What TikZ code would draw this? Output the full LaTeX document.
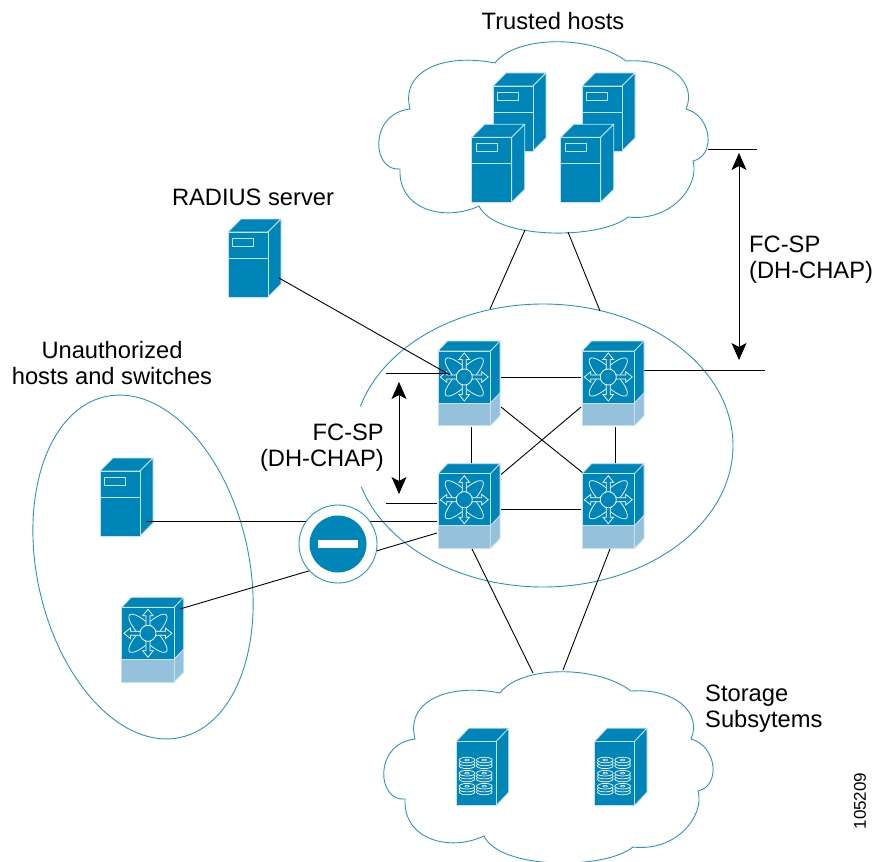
\documentclass[tikz,border=0pt]{standalone}
\usepackage{fontspec}
\setmainfont{Liberation Sans}
\usetikzlibrary{arrows.meta,shapes.geometric}
\definecolor{ciscoblue}{HTML}{0085B8}
\definecolor{ciscolight}{HTML}{95C1DD}
\definecolor{edgeline}{HTML}{C4E2EE}
\definecolor{ringline}{HTML}{2B95C0}
\newcommand{\cloudoutline}{(495,63) .. controls (515,36) and (590,34) .. (626,61)
 .. controls (672,58) and (697,84) .. (686,109)
 .. controls (712,116) and (716,156) .. (693,161)
 .. controls (700,185) and (672,222) .. (628,217)
 .. controls (600,240) and (495,240) .. (479,206)
 .. controls (445,222) and (398,210) .. (400,169)
 .. controls (372,172) and (368,114) .. (410,109)
 .. controls (400,70) and (445,53) .. cycle}
\tikzset{
 ring/.style={draw=ringline,line width=0.9pt},
 link/.style={draw=black,line width=0.9pt},
 span/.style={draw=black,line width=0.9pt,{Stealth[length=17pt,width=15pt,inset=4pt]}-{Stealth[length=17pt,width=15pt,inset=4pt]}},
 label/.style={font=\fontsize{23.7}{26}\selectfont,inner sep=0pt},
 face/.style={fill=ciscoblue,draw=edgeline,line width=0.8pt,line join=round},
 panel/.style={fill=ciscolight,draw=edgeline,line width=0.8pt,line join=round},
 glyph/.style={draw=white,line width=0.7pt},
 server/.pic={
  \path[face] (0,0) -- (13,-13) -- (53,-13) -- (40,0) -- cycle;
  \path[face] (40,0) -- (53,-13) -- (53,52) -- (40,65) -- cycle;
  \path[face] (0,0) rectangle (40,65);
  \draw[edgeline,line width=0.9pt] (0,26) -- (40,26);
  \draw[edgeline,line width=0.9pt] (4.5,6) rectangle (25.5,14);
 },
 switchbox/.pic={
  \path[face] (0,0) -- (9.5,-10) -- (62,-10) -- (52.5,0) -- cycle;
  \path[face] (52.5,0) -- (62,-10) -- (62,42) -- (52.5,52) -- cycle;
  \path[panel] (52.5,52) -- (62,42) -- (62,64.7) -- (52.5,74.7) -- cycle;
  \path[face] (0,0) rectangle (52.5,52);
  \path[panel] (0,52) rectangle (52.5,74.7);
  \begin{scope}[shift={(26.25,26)}]
   \draw[glyph] (0,0) ellipse [x radius=26,y radius=7.5,rotate=45];
   \draw[glyph] (0,0) ellipse [x radius=26,y radius=7.5,rotate=-45];
   \foreach \a in {0,90,180,270}
    \draw[glyph,fill=ciscoblue,rotate=\a,line join=miter] (7,-2) -- (17.5,-2) -- (17.5,-5.3) -- (24,0) -- (17.5,5.3) -- (17.5,2) -- (7,2) -- cycle;
   \draw[glyph,fill=ciscoblue] (0,0) circle [radius=8];
  \end{scope}
 },
 storage/.pic={
  \path[face] (0,0) -- (12.7,-13.5) -- (52.7,-13.5) -- (40,0) -- cycle;
  \path[face] (40,0) -- (52.7,-13.5) -- (52.7,50.5) -- (40,64) -- cycle;
  \path[face] (0,0) rectangle (40,64);
  \foreach \cx in {11,28.3}
   \foreach \cy in {18.3,31.5,44.5} {
    \foreach \o in {5.8,2.9,0}
     \draw[white,line width=0.7pt,fill=ciscoblue] (\cx,\cy+\o) ellipse [x radius=7.8,y radius=2.8];
    \draw[white,line width=0.6pt] (\cx,\cy) ellipse [x radius=2.2,y radius=0.9];
   }
 },
}
\begin{document}
\begin{tikzpicture}[x=1pt,y=-1pt]
\useasboundingbox (0,0) rectangle (874,861);
% coordinates for connector ends
\coordinate (tcA) at (525,230); \coordinate (mA) at (490,309);
\coordinate (tcB) at (568,232); \coordinate (mB) at (600,311);
\coordinate (radiusE) at (279,278); \coordinate (tlW) at (450,375);
\coordinate (fcA) at (386,373); \coordinate (fcAe) at (448,373);
\coordinate (fcB) at (386,503); \coordinate (fcBe) at (437,503);
\coordinate (hostE) at (146,521); \coordinate (blW) at (437,521);
\coordinate (swE) at (180,609); \coordinate (blS) at (437,533);
\coordinate (tlE) at (501,377); \coordinate (trW) at (581,377);
\coordinate (blE) at (501,509); \coordinate (brW) at (581,509);
\coordinate (tlS) at (471,427); \coordinate (blN) at (471,463);
\coordinate (trS) at (615,427); \coordinate (brN) at (615,463);
\coordinate (tlX) at (501,407); \coordinate (brX) at (583,473);
\coordinate (trX) at (581,407); \coordinate (blX) at (501,474.5);
\coordinate (blD) at (472,549); \coordinate (scA) at (533,673);
\coordinate (brD) at (610,549); \coordinate (scB) at (563,670);
\coordinate (trE) at (644,370); \coordinate (fcC) at (765,370);
\coordinate (tcE) at (708,149); \coordinate (fcD) at (757,149);
\coordinate (upA) at (399,382); \coordinate (upB) at (399,494);
\coordinate (rtA) at (739,153); \coordinate (rtB) at (739,360);
% containers
\draw[ring] \cloudoutline;
\draw[ring,shift={(5,630)}] \cloudoutline;
\draw[ring,domain=196:523,samples=120,smooth,variable=\t] plot ({543+190*cos(\t)},{445.5+141.5*sin(\t)});
\node[ellipse,ring,inner sep=0pt,minimum width=349pt,minimum height=212pt,rotate=-77.6] (unauth) at (143,567) {};
% connectors
\draw[link] (tcA) -- (mA);
\draw[link] (tcB) -- (mB);
\draw[link] (tlE) -- (trW);
\draw[link] (blE) -- (brW);
\draw[link] (tlS) -- (blN);
\draw[link] (trS) -- (brN);
\draw[link] (tlX) -- (brX);
\draw[link] (trX) -- (blX);
\draw[link] (blD) -- (scA);
\draw[link] (brD) -- (scB);
\draw[link] (trE) -- (fcC);
\draw[link] (tcE) -- (fcD);
\draw[link] (fcB) -- (fcBe);
% devices
\pic at (493,86) {server};
\pic at (582,86) {server};
\pic at (471.7,137.3) {server};
\pic at (560.7,137.3) {server};
\pic at (228,232) {server};
\pic at (100,471) {server};
\pic at (438,351) {switchbox};
\pic at (582,351) {switchbox};
\pic at (438,473.7) {switchbox};
\pic at (582,473.7) {switchbox};
\pic at (121.7,607.3) {switchbox};
\pic at (456,741.7) {storage};
\pic at (594.3,741.7) {storage};
% connectors lying over devices
\draw[link] (radiusE) -- (tlW);
\draw[link] (fcA) -- (fcAe);
\draw[link] (hostE) -- (blW);
\draw[link] (swE) -- (blS);
% no-entry sign
\node[circle,ring,fill=white,minimum size=78pt,inner sep=0pt] (block) at (338,544) {};
\node[circle,fill=ciscoblue,minimum size=57pt,inner sep=0pt] (blockdisk) at (block) {};
\node[fill=white,minimum width=40pt,minimum height=8pt,inner sep=0pt] (blockbar) at (block) {};
% spans
\draw[span] (upA) -- (upB);
\draw[span] (rtA) -- (rtB);
% labels
\node[label] (t1) at (553,21) {Trusted hosts};
\node[label] (t2) at (253,197) {RADIUS server};
\node[label,align=center] (t3) at (112,363) {Unauthorized\\hosts and switches};
\node[label,align=left,anchor=west] (t4) at (749,260) {FC-SP\\(DH-CHAP)};
\node[label,align=right,anchor=east] (t5) at (384,448) {FC-SP\\(DH-CHAP)};
\node[label,align=left,anchor=west] (t6) at (705,708.5) {Storage\\Subsytems};
\node[font=\fontsize{17}{17}\selectfont,inner sep=0pt,rotate=90] (t7) at (860,801) {105209};
\end{tikzpicture}
\end{document}
